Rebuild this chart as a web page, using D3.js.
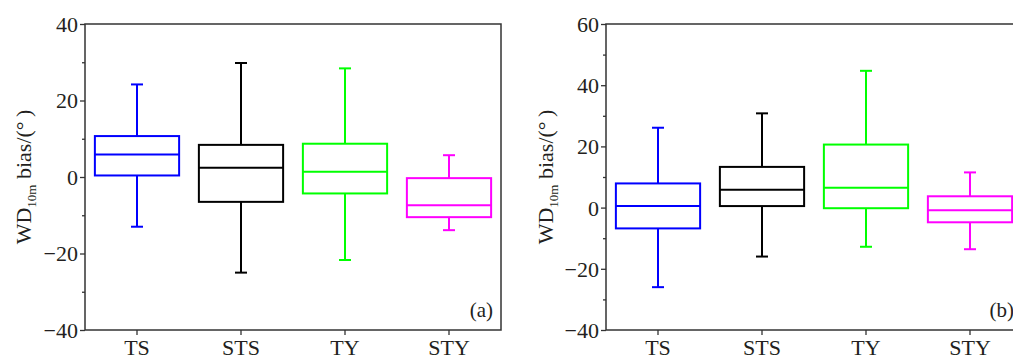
<!DOCTYPE html>
<html>
<head>
<meta charset="utf-8">
<script src="https://cdn.jsdelivr.net/npm/d3@7"></script>
<style>
  html, body { margin: 0; padding: 0; background: #fff; overflow: hidden; }
  svg { display: block; font-family: "Liberation Serif", "DejaVu Serif", serif; }
</style>
</head>
<body>
<div id="chart"></div>
<script>
// categories and box colours
const categories = ['TS', 'STS', 'TY', 'STY'];
const colors = ['#0000ff', '#000000', '#00ff00', '#ff00ff'];

// panel (a): [whisker low, q1, median, q3, whisker high]
const statsA = [
    [-13.0, 0.4, 5.9, 10.7, 24.2],
    [-25.0, -6.5, 2.4, 8.4, 29.8],
    [-21.7, -4.3, 1.4, 8.7, 28.4],
    [-13.9, -10.5, -7.4, -0.3, 5.7]
];
// panel (b)
const statsB = [
    [-26.0, -6.8, 0.5, 7.9, 26.1],
    [-16.0, 0.5, 5.8, 13.3, 30.8],
    [-12.8, -0.2, 6.5, 20.6, 44.7],
    [-13.6, -4.8, -0.9, 3.7, 11.5]
];

const ticksA = [-40, -20, 0, 20, 40];
const minorA = [-30, -10, 10, 30];
const ticksB = [-40, -20, 0, 20, 40, 60];
const minorB = [-30, -10, 10, 30, 50];

const width = 1013, height = 360;
const frameColor = '#333';
const textColor = '#231f20';
const serif = '"Liberation Serif", "DejaVu Serif", serif';

const svg = d3.select('#chart').append('svg')
    .attr('width', width)
    .attr('height', height);

function drawPanel(opts) {
    const { left, right, top, bottom, domain, ticks, minor, stats, label, labelX } = opts;

    const x = d3.scaleBand()
        .domain(categories)
        .range([left, right])
        .paddingInner(0.19)
        .paddingOuter(0.095);

    const y = d3.scaleLinear()
        .domain(domain)
        .range([bottom, top]);

    const g = svg.append('g');

    // y axis major ticks
    const yAxis = g.append('g')
        .attr('transform', `translate(${left},0)`)
        .call(d3.axisLeft(y).tickValues(ticks).tickSize(5).tickPadding(2)
            .tickFormat(d => d < 0 ? '\u2212' + Math.abs(d) : d));
    yAxis.attr('font-family', serif);
    yAxis.select('.domain').remove();
    yAxis.selectAll('line').attr('stroke', frameColor).attr('stroke-width', 1.3);
    yAxis.selectAll('text')
        .attr('fill', textColor)
        .style('font-size', '22px')
        .attr('dy', '0.34em');

    // y axis minor ticks
    const yMinor = g.append('g')
        .attr('transform', `translate(${left},0)`)
        .call(d3.axisLeft(y).tickValues(minor).tickSize(3).tickFormat(''));
    yMinor.select('.domain').remove();
    yMinor.selectAll('line').attr('stroke', frameColor).attr('stroke-width', 1.3);

    // x axis
    const xAxis = g.append('g')
        .attr('transform', `translate(0,${bottom})`)
        .call(d3.axisBottom(x).tickSize(5).tickPadding(4));
    xAxis.attr('font-family', serif);
    xAxis.select('.domain').remove();
    xAxis.selectAll('line').attr('stroke', frameColor).attr('stroke-width', 1.3);
    xAxis.selectAll('text')
        .attr('fill', textColor)
        .style('font-size', '22px')
        .attr('dy', '0.72em');

    // frame
    g.append('rect')
        .attr('x', left)
        .attr('y', top)
        .attr('width', right - left)
        .attr('height', bottom - top)
        .attr('fill', 'none')
        .attr('stroke', frameColor)
        .attr('stroke-width', 1.5);

    // boxes
    const capW = 12;
    const boxes = g.selectAll('.box')
        .data(stats)
        .enter()
        .append('g')
        .attr('class', 'box')
        .attr('stroke', (d, i) => colors[i])
        .attr('stroke-width', 2)
        .attr('fill', 'none');

    boxes.each(function (d, i) {
        const b = d3.select(this);
        const cx = x(categories[i]) + x.bandwidth() / 2;
        const x0 = x(categories[i]);
        const bw = x.bandwidth();
        // whiskers
        b.append('line').attr('x1', cx).attr('x2', cx).attr('y1', y(d[4])).attr('y2', y(d[3]));
        b.append('line').attr('x1', cx).attr('x2', cx).attr('y1', y(d[1])).attr('y2', y(d[0]));
        b.append('line').attr('x1', cx - capW / 2).attr('x2', cx + capW / 2).attr('y1', y(d[4])).attr('y2', y(d[4]));
        b.append('line').attr('x1', cx - capW / 2).attr('x2', cx + capW / 2).attr('y1', y(d[0])).attr('y2', y(d[0]));
        // box
        b.append('rect')
            .attr('x', x0)
            .attr('y', y(d[3]))
            .attr('width', bw)
            .attr('height', y(d[1]) - y(d[3]));
        // median
        b.append('line').attr('x1', x0).attr('x2', x0 + bw).attr('y1', y(d[2])).attr('y2', y(d[2]));
    });

    // panel letter
    g.append('text')
        .attr('x', right - 8)
        .attr('y', bottom - 13)
        .attr('text-anchor', 'end')
        .attr('fill', textColor)
        .style('font-size', '21px')
        .text(label);

    // y axis title
    const yt = g.append('text')
        .attr('transform', `translate(${labelX},${(top + bottom) / 2}) rotate(-90)`)
        .attr('text-anchor', 'middle')
        .attr('dy', '0.35em')
        .attr('fill', textColor)
        .style('font-size', '22px');
    yt.append('tspan').text('WD');
    yt.append('tspan').attr('dy', 5).style('font-size', '13px').text('10m');
    yt.append('tspan').attr('dy', -5).text(' bias/(\u00b0\u2009)');
}

drawPanel({
    left: 85, right: 501, top: 24, bottom: 330,
    domain: [-40, 40], ticks: ticksA, minor: minorA,
    stats: statsA, label: '(a)', labelX: 23
});

drawPanel({
    left: 606, right: 1022, top: 24, bottom: 330,
    domain: [-40, 60], ticks: ticksB, minor: minorB,
    stats: statsB, label: '(b)', labelX: 545
});
</script>
</body>
</html>
